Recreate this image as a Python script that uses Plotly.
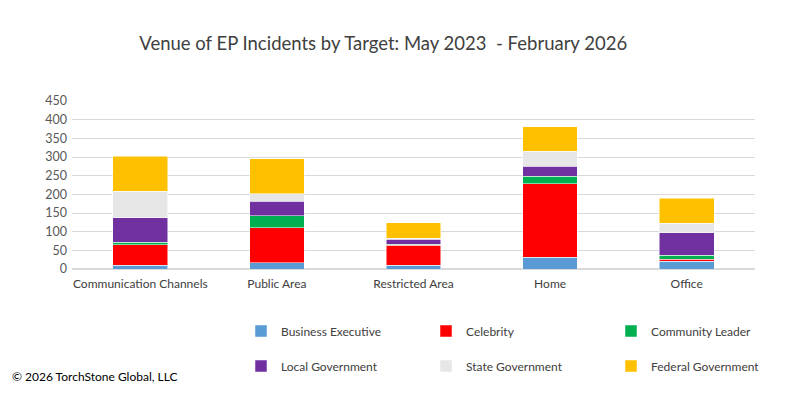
import plotly.graph_objects as go

categories = ["Communication Channels", "Public Area", "Restricted Area", "Home", "Office"]
business_executive = [10, 17, 10, 32, 21]
celebrity = [55, 94, 54, 196, 5]
community_leader = [7, 31, 2, 20, 11]
local_government = [65, 40, 14, 27, 60]
state_government = [71, 20, 2, 41, 26]
federal_government = [94, 93, 42, 65, 66]
y_ticks = [0, 50, 100, 150, 200, 250, 300, 350, 400, 450]

series = [
    ("Business Executive", business_executive, "#5B9BD5", "legend"),
    ("Celebrity", celebrity, "#FF0000", "legend"),
    ("Community Leader", community_leader, "#00B050", "legend"),
    ("Local Government", local_government, "#7030A0", "legend2"),
    ("State Government", state_government, "#E7E6E6", "legend2"),
    ("Federal Government", federal_government, "#FFC000", "legend2"),
]

FONT = "Lato"
fig = go.Figure()
for name, vals, color, lg in series:
    fig.add_trace(go.Bar(
        x=categories, y=vals, name=name, legend=lg,
        marker=dict(color=color, line=dict(color="white", width=0.5)),
    ))

legend_common = dict(
    orientation="h", xref="container", yref="container",
    xanchor="left", yanchor="middle", entrywidth=140, entrywidthmode="pixels",
    font=dict(family=FONT, size=12, color="#404040"), bgcolor="rgba(0,0,0,0)",
    traceorder="normal",
)

fig.update_layout(
    width=800, height=396,
    barmode="stack", bargap=0.6,
    paper_bgcolor="white", plot_bgcolor="white",
    margin=dict(l=72, r=45, t=101, b=127, autoexpand=False),
    font=dict(family=FONT, color="#404040"),
    title=dict(text="Venue of EP Incidents by Target: May 2023  - February 2026",
               x=0.479, xanchor="center", y=1 - 44 / 396, yanchor="middle",
               xref="container", yref="container",
               font=dict(family=FONT, size=18.5, color="#404040")),
    yaxis=dict(range=[0, 450], tickvals=y_ticks, showgrid=True, gridcolor="#D9D9D9",
               gridwidth=1, zeroline=True, zerolinecolor="#D9D9D9", showline=False,
               ticklabelstandoff=4,
               tickfont=dict(family=FONT, size=12.5, color="#595959"), ticks="", fixedrange=True),
    xaxis=dict(showline=False, ticks="", ticklabelstandoff=6,
               tickfont=dict(family=FONT, size=12, color="#404040")),
    legend=dict(x=241 / 800, y=1 - 331 / 396, **legend_common),
    legend2=dict(x=241 / 800, y=1 - 366 / 396, **legend_common),
    annotations=[dict(text="© 2026 TorchStone Global, LLC", xref="paper", yref="paper",
                      x=(10 - 72) / 683, y=-(376 - 269) / 168, xanchor="left", yanchor="middle",
                      showarrow=False, font=dict(family=FONT, size=12, color="#000000"))],
)

fig.write_html("out.html", config={"displayModeBar": False},
               post_script="document.body.style.margin='0';")
